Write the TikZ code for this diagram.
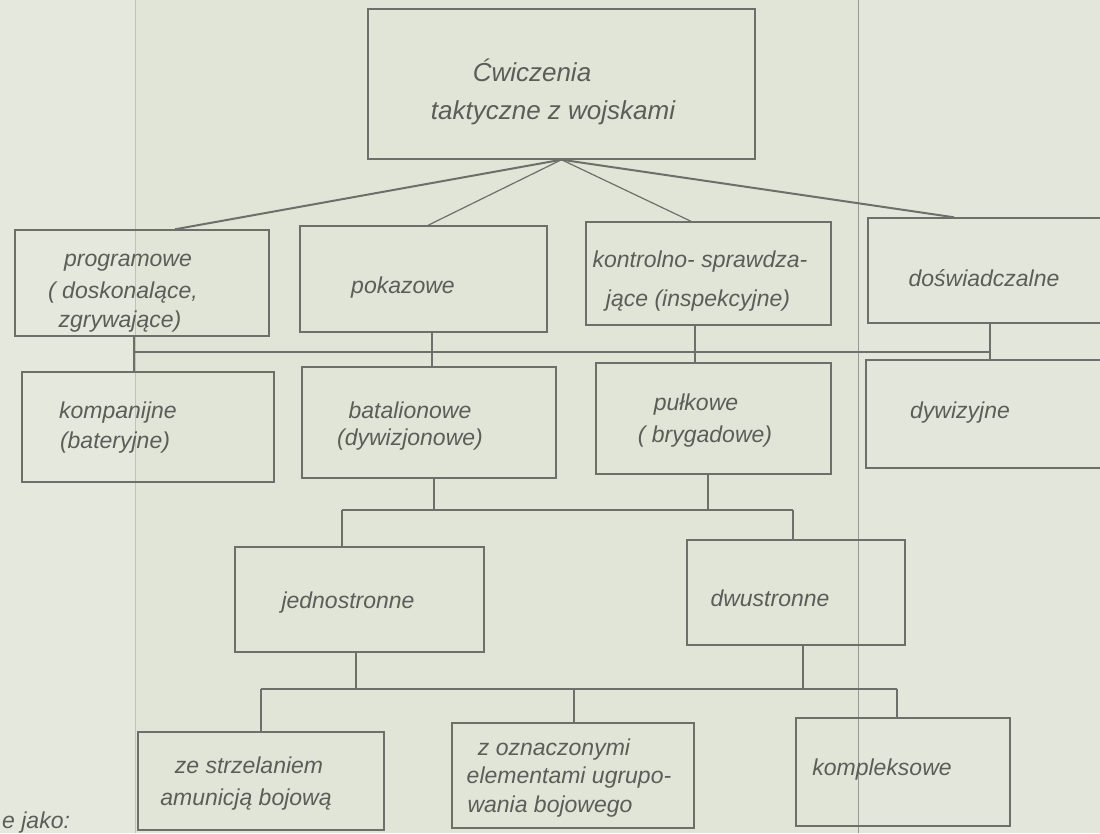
\documentclass[tikz,border=0pt]{standalone}
\usepackage{fontspec}
\setmainfont{Liberation Sans}
\usetikzlibrary{fit}
\definecolor{paper}{HTML}{E0E5D8}
\definecolor{paperL}{HTML}{E4E8DD}
\definecolor{paperR}{HTML}{E3E7DB}
\definecolor{ink}{HTML}{6E6F6A}
\definecolor{txtc}{HTML}{5C5D58}
\tikzset{
  box/.style={draw=ink, line width=1.4pt, inner sep=0pt, fit={#1}},
  lbl/.style={text=txtc, inner sep=0pt, font=\itshape\fontsize{23}{26}\selectfont},
  biglbl/.style={text=txtc, inner sep=0pt, font=\itshape\fontsize{26}{30}\selectfont},
  conn/.style={draw=ink, line width=1.2pt},
  thickconn/.style={draw=ink, line width=2pt},
}
\begin{document}
\begin{tikzpicture}[x=1pt,y=-1pt]
\useasboundingbox (0,0) rectangle (1100,833);
\clip (0,0) rectangle (1100,833);
% paper
\fill[paper] (0,0) rectangle (1100,833);
\fill[paperL] (0,0) rectangle (135,833);
\fill[paperR] (858,0) rectangle (1100,833);
\draw[ink!70, line width=0.8pt] (858,0) -- (858,833);
\draw[paper!85!black, line width=0.5pt] (135,0) -- (135,833);

% boxes
\node[box={(368,9) (755,159)}] (top) {};
\node[box={(15,230) (269,336)}] (prog) {};
\node[box={(300,226) (547,332)}] (pok) {};
\node[box={(586,222) (831,325)}] (kon) {};
\node[box={(868,218) (1110,323)}] (dos) {};
\node[box={(22,372) (274,482)}] (kom) {};
\node[box={(302,367) (556,478)}] (bat) {};
\node[box={(596,363) (831,474)}] (pul) {};
\node[box={(866,360) (1110,468)}] (dyw) {};
\node[box={(235,547) (484,652)}] (jed) {};
\node[box={(687,540) (905,645)}] (dwu) {};
\node[box={(138,732) (384,830)}] (zes) {};
\node[box={(452,723) (694,828)}] (zoz) {};
\node[box={(796,718) (1010,826)}] (kmp) {};

% texts
\node[biglbl] (t1) at (532,70) {Ćwiczenia};
\node[biglbl] (t2) at (553,113) {taktyczne z wojskami};
\node[lbl] (p1) at (128,263) {programowe};
\node[lbl] (p2) at (123,293) {( doskonalące,};
\node[lbl] (p3) at (120,322) {zgrywające)};
\node[lbl] (pk) at (403,288) {pokazowe};
\node[lbl] (k1) at (700,262) {kontrolno- sprawdza-};
\node[lbl] (k2) at (698,301) {jące (inspekcyjne)};
\node[lbl] (ds) at (984,278) {doświadczalne};
\node[lbl] (km1) at (118,413) {kompanijne};
\node[lbl] (km2) at (115,443) {(bateryjne)};
\node[lbl] (b1) at (410,410) {batalionowe};
\node[lbl] (b2) at (410,440) {(dywizjonowe)};
\node[lbl] (pu1) at (696,405) {pułkowe};
\node[lbl] (pu2) at (705,437) {( brygadowe)};
\node[lbl] (dy) at (960,413) {dywizyjne};
\node[lbl] (je) at (348,603) {jednostronne};
\node[lbl] (dw) at (770,598) {dwustronne};
\node[lbl] (z1) at (249,765) {ze strzelaniem};
\node[lbl] (z2) at (246,800) {amunicją bojową};
\node[lbl] (o1) at (554,750) {z oznaczonymi};
\node[lbl] (o2) at (569,778) {elementami ugrupo-};
\node[lbl] (o3) at (550,807) {wania bojowego};
\node[lbl] (kp) at (882,770) {kompleksowe};
\node[lbl, anchor=west] (ej) at (2,823) {e jako:};

% connectors from top
\draw[thickconn] (top.south) -- (175,0 |- prog.north);
\draw[conn] (top.south) -- (428,0 |- pok.north);
\draw[conn] (top.south) -- (691,0 |- kon.north);
\draw[thickconn] (top.south) -- (954,0 |- dos.north);

% bus 1
\coordinate (b1l) at (134,352);
\coordinate (b1r) at (990,352);
\draw[conn] (b1l) -- (b1r);
\draw[conn] (134,0 |- prog.south) -- (134,0 |- kom.north);
\draw[conn] (432,0 |- pok.south) -- (432,0 |- bat.north);
\draw[conn] (695,0 |- kon.south) -- (695,0 |- pul.north);
\draw[conn] (990,0 |- dos.south) -- (990,0 |- dyw.north);

% bus 2
\coordinate (b2l) at (342,510);
\coordinate (b2r) at (793,510);
\draw[conn] (b2l) -- (b2r);
\draw[conn] (434,0 |- bat.south) -- (434,0 |- b2l);
\draw[conn] (708,0 |- pul.south) -- (708,0 |- b2l);
\draw[conn] (b2l) -- (342,0 |- jed.north);
\draw[conn] (b2r) -- (793,0 |- dwu.north);

% bus 3
\coordinate (b3l) at (261,689);
\coordinate (b3r) at (897,689);
\draw[conn] (b3l) -- (b3r);
\draw[conn] (356,0 |- jed.south) -- (356,0 |- b3l);
\draw[conn] (803,0 |- dwu.south) -- (803,0 |- b3l);
\draw[conn] (b3l) -- (261,0 |- zes.north);
\draw[conn] (574,0 |- b3l) -- (574,0 |- zoz.north);
\draw[conn] (b3r) -- (897,0 |- kmp.north);
\end{tikzpicture}
\end{document}
